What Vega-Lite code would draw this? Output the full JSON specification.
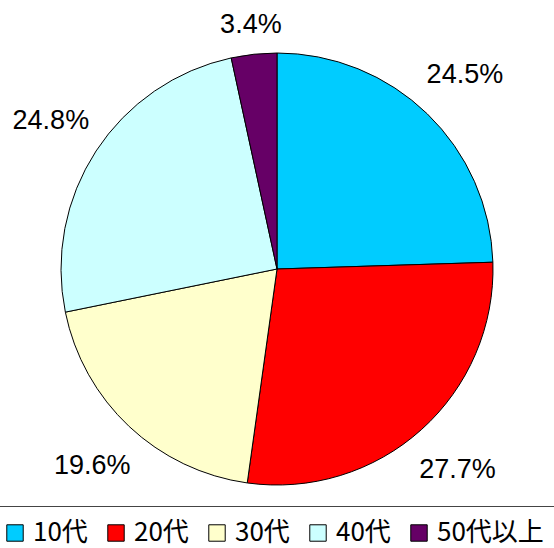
{
  "$schema": "https://vega.github.io/schema/vega-lite/v6.json",
  "width": 554,
  "height": 538,
  "autosize": "none",
  "padding": {"left": 0, "top": 0, "right": 0, "bottom": 10},
  "background": "white",
  "config": {"view": {"stroke": null}},
  "data": {
    "values": [
      {"group": "10代", "share": 0.245},
      {"group": "20代", "share": 0.277},
      {"group": "30代", "share": 0.196},
      {"group": "40代", "share": 0.248},
      {"group": "50代以上", "share": 0.034}
    ]
  },
  "layer": [
    {
      "mark": {"type": "arc", "outerRadius": 216, "stroke": "black", "strokeWidth": 1},
      "encoding": {
        "theta": {"field": "share", "type": "quantitative", "stack": true},
        "color": {
          "field": "group",
          "type": "nominal",
          "scale": {
            "domain": ["10代", "20代", "30代", "40代", "50代以上"],
            "range": ["#00CCFF", "#FF0000", "#FFFFCC", "#CCFFFF", "#660066"]
          },
          "legend": {
            "orient": "none",
            "legendX": -12,
            "legendY": 506,
            "direction": "horizontal",
            "title": null,
            "padding": 14,
            "strokeColor": "#444444",
            "fillColor": "white",
            "symbolType": "square",
            "symbolSize": 270,
            "symbolStrokeColor": "black",
            "symbolStrokeWidth": 1,
            "symbolOpacity": 1,
            "labelFont": "Noto Sans CJK JP",
            "labelFontSize": 26,
            "labelColor": "black",
            "labelOffset": 5,
            "columnPadding": 15
          }
        },
        "order": {"field": "group", "sort": "ascending"}
      }
    },
    {
      "mark": {
        "type": "text",
        "font": "Liberation Sans, sans-serif",
        "fontSize": 27,
        "color": "black"
      },
      "encoding": {
        "theta": {"field": "share", "type": "quantitative", "stack": true},
        "radius": {
          "field": "share",
          "type": "quantitative",
          "scale": {"type": "linear", "zero": false, "domain": [0.034, 0.1], "range": [245, 270], "clamp": true}
        },
        "text": {"field": "share", "type": "quantitative", "format": ".1%"},
        "order": {"field": "group", "sort": "ascending"}
      }
    }
  ]
}
